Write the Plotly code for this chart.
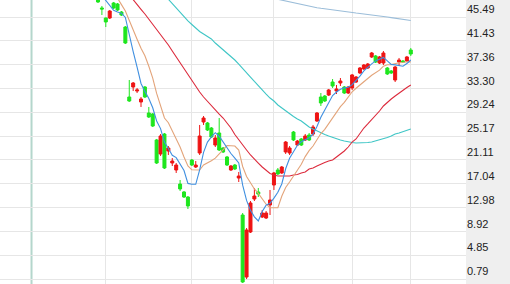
import plotly.graph_objects as go

# ---- data (trading-day index, prices) ----
day = list(range(81))

open_ = [49.20, 47.03, 45.32, 45.32, 47.88, 47.71, 46.34, 43.78, 31.84, 33.55,
         32.86, 30.99, 33.55, 29.11, 28.94, 24.51, 22.12, 25.53, 22.63, 20.58,
         19.39, 16.99, 15.64, 14.78, 21.09, 19.90, 22.29, 27.58, 27.41, 26.55,
         23.65, 25.70, 23.14, 21.61, 19.39, 20.24, 18.02, 11.71, 1.13, 8.81,
         14.44, 15.64, 11.37, 11.20, 13.42, 16.83, 19.39, 18.88, 22.46, 22.29,
         25.87, 23.65, 24.68, 24.51, 25.36, 25.53, 27.75, 31.84, 32.01, 32.18,
         34.40, 32.86, 34.23, 33.55, 32.52, 33.38, 34.40, 35.94, 36.62, 36.79,
         38.67, 38.84, 37.64, 37.64, 36.79, 36.28, 34.74, 37.81, 37.98, 37.98,
         39.86]
high = [49.50, 47.37, 45.40, 46.68, 48.05, 47.88, 46.51, 43.95, 34.74, 34.40,
        33.38, 31.84, 33.72, 30.14, 29.11, 24.68, 25.53, 25.70, 23.48, 21.43,
        20.58, 17.68, 15.81, 14.95, 21.26, 20.92, 27.07, 28.60, 27.58, 26.72,
        25.36, 28.26, 23.31, 21.78, 20.24, 20.41, 19.05, 12.05, 9.49, 14.10,
        16.32, 16.32, 12.56, 12.39, 15.98, 19.05, 19.73, 20.07, 24.33, 23.48,
        26.04, 24.51, 24.85, 25.53, 25.70, 27.07, 29.28, 32.52, 32.18, 33.21,
        34.91, 33.89, 35.08, 33.72, 33.72, 35.77, 35.42, 36.96, 37.47, 37.64,
        39.52, 39.01, 38.84, 39.69, 36.96, 36.45, 37.13, 38.50, 38.15, 38.84,
        40.20]
low = [47.88, 45.83, 43.78, 45.15, 46.85, 46.51, 45.66, 40.88, 31.00, 32.86,
       32.52, 30.14, 31.67, 28.26, 26.72, 20.41, 21.78, 19.56, 21.95, 20.07,
       18.88, 15.81, 14.61, 12.73, 20.07, 19.73, 21.95, 27.07, 26.04, 24.85,
       23.31, 22.63, 22.29, 20.07, 19.22, 19.39, 17.34, 0.11, 0.79, 8.64,
       14.10, 14.78, 11.20, 11.03, 11.71, 15.98, 18.53, 18.71, 22.12, 21.95,
       24.33, 23.48, 23.48, 24.33, 24.33, 25.19, 27.58, 30.31, 30.99, 32.01,
       33.38, 32.35, 33.72, 32.35, 32.35, 33.04, 34.23, 35.77, 36.45, 36.62,
       38.50, 37.64, 37.47, 37.30, 35.60, 35.77, 34.40, 37.13, 37.64, 37.81,
       38.84]
close = [48.05, 46.85, 44.64, 46.51, 47.03, 46.68, 45.83, 41.05, 31.16, 34.23,
         33.04, 31.50, 31.84, 28.43, 26.89, 20.58, 25.19, 19.73, 23.14, 20.92,
         20.24, 16.15, 14.78, 13.25, 20.24, 20.24, 25.19, 28.26, 26.21, 25.02,
         24.85, 22.80, 22.46, 20.24, 20.07, 19.56, 18.36, 0.28, 9.15, 13.76,
         14.95, 15.29, 12.05, 12.05, 14.27, 18.88, 18.71, 19.90, 24.16, 23.14,
         24.51, 24.33, 23.65, 25.19, 24.51, 26.72, 29.11, 30.82, 31.16, 33.04,
         33.72, 33.21, 34.57, 32.52, 33.55, 35.60, 35.25, 36.79, 37.30, 37.47,
         39.35, 37.81, 38.67, 39.35, 35.77, 35.94, 36.96, 38.15, 37.81, 38.67,
         39.18]

ma5 = [50.00, 49.20, 48.30, 47.40, 46.62, 46.34, 46.14, 45.42, 42.35, 39.60,
       36.95, 34.15, 32.80, 31.60, 30.00, 27.75, 26.45, 24.16, 23.05, 21.90,
       21.50, 20.30, 19.30, 17.10, 16.95, 16.95, 19.40, 22.40, 24.15, 25.05,
       25.75, 25.15, 24.15, 23.05, 22.20, 21.40, 20.60, 16.80, 14.20, 12.50,
       11.40, 10.69, 12.30, 13.40, 13.72, 14.60, 15.60, 17.00, 19.60, 21.40,
       22.60, 23.60, 24.20, 24.60, 24.90, 25.50, 26.80, 28.40, 29.60, 30.90,
       32.10, 32.70, 33.17, 33.40, 33.50, 33.95, 34.60, 35.40, 36.30, 36.95,
       37.50, 38.00, 38.35, 38.60, 38.00, 37.40, 37.32, 37.25, 37.10, 37.55,
       38.15]
ma10 = [None, None, None, None, 49.80, 48.60, 47.60, 46.50, 45.00, 43.30,
        41.70, 40.17, 38.89, 37.08, 35.07, 32.46, 30.39, 28.26, 27.46, 26.13,
        24.85, 23.31, 21.61, 20.09, 19.42, 19.39, 19.39, 20.24, 20.55, 20.96,
        21.42, 22.08, 22.85, 23.55, 23.53, 23.47, 22.78, 19.99, 18.28, 17.15,
        16.16, 15.41, 14.37, 13.55, 12.97, 12.90, 12.94, 14.90, 16.40, 17.34,
        18.30, 19.20, 20.36, 21.67, 22.70, 23.48, 24.52, 25.61, 26.31, 27.30,
        28.23, 29.11, 30.21, 30.94, 31.84, 32.73, 33.34, 33.94, 34.56, 35.00,
        35.56, 36.02, 36.43, 37.11, 37.34, 37.37, 37.54, 37.68, 37.73, 37.85,
        37.83]
ma30 = [None, None, None, None, None, None, None, 50.10, 49.24, 48.36,
        47.54, 46.80, 46.00, 45.15, 44.30, 43.44, 42.59, 41.65, 40.71, 39.69,
        38.67, 37.64, 36.70, 35.68, 34.66, 33.55, 32.69, 31.84, 31.07, 30.39,
        29.71, 28.94, 28.26, 27.49, 26.55, 25.44, 24.51, 23.65, 22.80, 21.95,
        21.18, 20.58, 19.90, 19.30, 18.79, 18.53, 18.36, 18.36, 18.36, 18.36,
        18.53, 18.62, 18.88, 19.05, 19.56, 19.73, 20.07, 20.41, 20.67, 20.92,
        21.09, 21.61, 22.12, 22.63, 23.31, 24.16, 24.68, 25.70, 26.55, 27.24,
        27.92, 28.77, 29.45, 30.31, 30.99, 31.50, 32.01, 32.52, 33.04, 33.46,
        33.89]
ma60 = [None] * 16 + [
        50.00, 49.24, 48.56, 47.88,
        47.03, 46.17, 45.49, 44.81, 44.21, 43.61, 43.02, 42.59, 42.16, 41.74,
        41.05, 40.46, 39.95, 39.35, 38.84, 38.15, 37.47, 36.79, 35.94, 35.25,
        34.49, 33.72, 33.04, 32.35, 31.67, 31.16, 30.48, 29.97, 29.45, 28.94,
        28.52, 28.09, 27.75, 27.24, 26.72, 26.38, 26.04, 25.70, 25.44, 25.19,
        24.93, 24.68, 24.51, 24.33, 24.16, 24.08, 23.99, 23.99, 23.99, 24.08,
        24.16, 24.33, 24.51, 24.68, 24.93, 25.19, 25.53, 25.70, 25.96, 26.21,
        26.38]
ma120 = [None] * 42 + [
         49.07, 48.97, 48.82, 48.66, 48.51, 48.36, 48.19, 48.03,
         47.88, 47.72, 47.57, 47.43, 47.30, 47.18, 47.08, 46.97, 46.87, 46.77,
         46.67, 46.56, 46.46, 46.38, 46.29, 46.22, 46.16, 46.09, 46.02, 45.95,
         45.87, 45.78, 45.69, 45.59, 45.49, 45.39, 45.29, 45.18, 45.08, 44.98,
         44.88]

ytick_vals = [0.79, 4.85, 8.92, 12.98, 17.04, 21.11, 25.17, 29.24, 33.30, 37.36, 41.43, 45.49]
ytick_text = ["0.79", "4.85", "8.92", "12.98", "17.04", "21.11", "25.17", "29.24",
              "33.30", "37.36", "41.43", "45.49"]
month_start_days = [2, 24, 45, 65, 80]
year_start_day = -17

# ---- style ----
UP = "#ee1414"
DOWN = "#1ee61e"
GRID = "#e6e6e6"
X_RANGE = [-25.06, 94.12]
Y_RANGE = [-0.06, 48.39]
PLOT_RIGHT = 466 / 510

fig = go.Figure()
fig.add_trace(go.Candlestick(
    x=day, open=open_, high=high, low=low, close=close,
    increasing=dict(line=dict(color=UP, width=1), fillcolor=UP),
    decreasing=dict(line=dict(color=DOWN, width=1), fillcolor=DOWN),
    whiskerwidth=0, hoverinfo="skip", showlegend=False,
))
for vals, col in [(ma120, "#9bbdd9"), (ma60, "#3fc6c6"), (ma30, "#dc2a3c"),
                  (ma10, "#e3a47a"), (ma5, "#3f8fe0")]:
    fig.add_trace(go.Scatter(x=day, y=vals, mode="lines",
                             line=dict(color=col, width=1.1),
                             hoverinfo="skip", showlegend=False))

fig.update_layout(
    width=510, height=284,
    margin=dict(l=0, r=0, t=0, b=0),
    paper_bgcolor="white", plot_bgcolor="white",
    showlegend=False,
    boxgap=0.15, boxgroupgap=0.1,
    xaxis=dict(domain=[0, PLOT_RIGHT], range=X_RANGE, tickvals=month_start_days,
               showticklabels=False, showgrid=True, gridcolor=GRID, gridwidth=1,
               zeroline=False, showline=False, ticks="",
               rangeslider=dict(visible=False), fixedrange=True),
    yaxis=dict(side="right", range=Y_RANGE, tickvals=ytick_vals, ticktext=ytick_text,
               showgrid=True, gridcolor=GRID, gridwidth=1, zeroline=False,
               showline=False, ticks="", ticklabelposition="outside top",
               tickfont=dict(family="Liberation Sans", size=11, color="#222222"),
               fixedrange=True),
    shapes=[
        dict(type="rect", xref="paper", yref="paper", x0=PLOT_RIGHT, x1=1, y0=0, y1=1,
             fillcolor="#efefef", line=dict(width=0), layer="below"),
        dict(type="line", xref="x", yref="paper", x0=year_start_day, x1=year_start_day,
             y0=0, y1=1, line=dict(color="#b4d6cc", width=2), layer="below"),
    ],
)

fig.write_html("out.html")
